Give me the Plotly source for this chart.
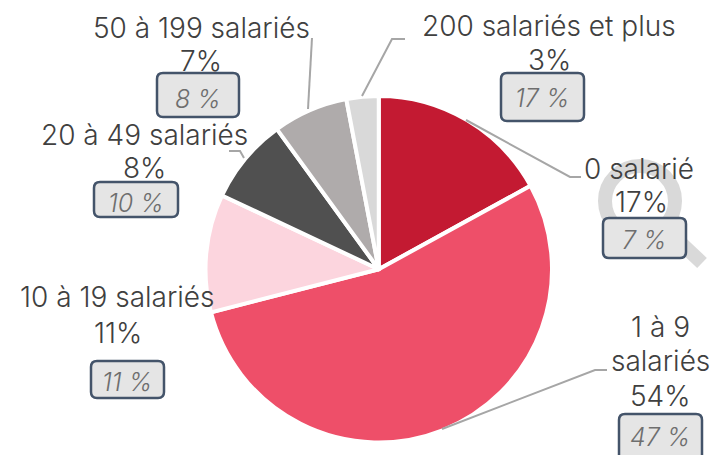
import plotly.graph_objects as go

categories = ["0 salarié", "1 à 9 salariés", "10 à 19 salariés", "20 à 49 salariés", "50 à 199 salariés", "200 salariés et plus"]
shares = [17, 54, 11, 8, 7, 3]
compare_shares = [7, 47, 11, 10, 8, 17]
colors = ["#C31A32", "#EE4F69", "#FCD5DE", "#505050", "#AFABAB", "#D9D9D9"]

W, H = 712, 455
FONT = "Inter"
TXT = "#404040"

def px(x): return x / W
def py(y): return 1 - y / H

name_lines = [["0 salarié"], ["1 à 9", "salariés"], ["10 à 19 salariés"], ["20 à 49 salariés"], ["50 à 199 salariés"], ["200 salariés et plus"]]
name_pos = [[(639, 169)], [(660, 327), (660, 361)], [(118, 297)], [(144, 135)], [(201, 28)], [(549, 26)]]
share_pos = [(641, 202), (660, 396), (118, 333), (144, 168), (201, 61), (549, 60)]
boxes = [(603, 218, 686, 258), (619, 414, 702, 462), (91, 361, 164, 398), (94, 182, 178, 217), (157, 73, 239, 117), (501, 73, 584, 121)]
box_text_pos = [(644, 240), (660, 437), (127, 382), (136, 203), (198, 99), (542, 98)]
leaders = [
    [(466, 120), (570, 177), (581, 177)],
    [(442, 429), (595, 370), (607, 370)],
    [(229, 151), (240, 151), (244, 158)],
    [(312, 38), (308, 109)],
    [(405, 39), (392, 39), (362, 96)],
]

def rounded(x0, y0, x1, y1, r=6):
    X0, X1 = px(x0), px(x1)
    Y0, Y1 = py(y0), py(y1)
    rx, ry = r / W, r / H
    return (f"M{X0+rx},{Y0} L{X1-rx},{Y0} Q{X1},{Y0} {X1},{Y0-ry} L{X1},{Y1+ry} Q{X1},{Y1} {X1-rx},{Y1} "
            f"L{X0+rx},{Y1} Q{X0},{Y1} {X0},{Y1+ry} L{X0},{Y0-ry} Q{X0},{Y0} {X0+rx},{Y0} Z")

fig = go.Figure(go.Pie(
    labels=categories, values=shares, sort=False, direction="clockwise", rotation=0,
    marker=dict(colors=colors, line=dict(color="white", width=4)),
    textinfo="none", hoverinfo="label+percent", showlegend=False,
    domain=dict(x=[px(205.5), px(552)], y=[py(442.5), py(96)]),
))

shapes = [
    dict(type="circle", xref="paper", yref="paper", x0=px(605), x1=px(675), y0=py(236), y1=py(166),
         line=dict(color="#D9D9D9", width=14), fillcolor="rgba(0,0,0,0)", layer="below"),
    dict(type="line", xref="paper", yref="paper", x0=px(665), y0=py(228), x1=px(702), y1=py(263),
         line=dict(color="#D9D9D9", width=14), layer="below"),
]
for pts in leaders:
    path = "M" + " L".join(f"{px(x)},{py(y)}" for x, y in pts)
    shapes.append(dict(type="path", xref="paper", yref="paper", path=path,
                       line=dict(color="#A6A6A6", width=2), layer="above"))
for b in boxes:
    shapes.append(dict(type="path", xref="paper", yref="paper", path=rounded(*b),
                       fillcolor="#E5E5E5", line=dict(color="#44546A", width=2.5), layer="above"))

ann = []
def text(t, x, y, size=28, color=TXT, style="normal"):
    ann.append(dict(text=t, xref="paper", yref="paper", x=px(x), y=py(y), xanchor="center", yanchor="middle",
                    showarrow=False, font=dict(family=FONT, size=size, color=color, style=style, weight=300)))

for i in range(len(categories)):
    for line, (x, y) in zip(name_lines[i], name_pos[i]):
        text(line, x, y)
    text(f"{shares[i]}%", *share_pos[i])
    text(f"{compare_shares[i]} %", *box_text_pos[i], size=25, color="#6E6E6E", style="italic")

fig.update_layout(width=W, height=H, margin=dict(l=0, r=0, t=0, b=0), paper_bgcolor="white",
                  shapes=shapes, annotations=ann)
fig.write_html("out.html", config=dict(displayModeBar=False), post_script="document.body.style.margin='0';")
